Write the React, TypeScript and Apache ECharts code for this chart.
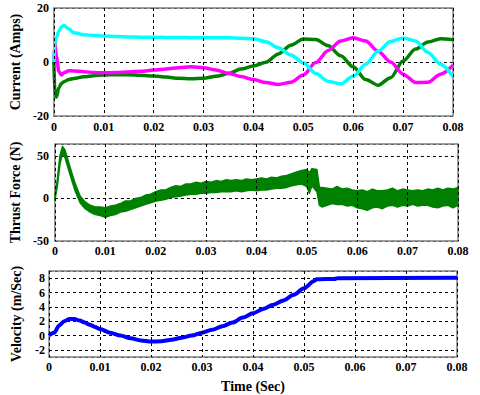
import React, { useEffect, useRef } from 'react';
import * as echarts from 'echarts';

// ---------- data ----------
const xRange = [0, 0.08];
const currentRange = [-20, 20];
const forceRange = [-50, 64];
const velocityRange = [-3, 9];

const currentTime = [0, 0.0002, 0.0005, 0.001, 0.0015, 0.002, 0.003, 0.004, 0.006, 0.008, 0.01, 0.0125, 0.015, 0.0175, 0.02, 0.0225, 0.025, 0.0275, 0.03, 0.0325, 0.035, 0.0375, 0.04, 0.0425, 0.045, 0.0475, 0.05, 0.0525, 0.055, 0.0575, 0.06, 0.0625, 0.065, 0.0675, 0.07, 0.0725, 0.075, 0.0775, 0.08];
const currentA = [0, -12, -13, -9.5, -8, -7.3, -6.5, -6.1, -5.5, -5.1, -4.8, -4.7, -4.7, -4.9, -5.2, -5.6, -6.0, -6.2, -6.0, -5.3, -4.3, -2.6, -1.5, -0.1, 3.0, 6.2, 8.5, 8.3, 6.0, 2.3, -1.8, -6.5, -8.6, -5.8, 0.4, 4.8, 7.4, 8.6, 8.2];
const currentB = [0, 7, 2, -3.5, -4.8, -4.0, -3.2, -3.3, -3.6, -3.9, -4.0, -3.9, -3.7, -3.4, -3.0, -2.6, -2.1, -1.8, -2.1, -3.0, -4.2, -5.4, -6.5, -7.6, -8.3, -7.5, -4.8, -0.2, 4.3, 7.8, 9.0, 7.8, 4.0, 0, -4.5, -7.6, -7.5, -4.5, -1.2];
const currentC = [0, 7, 9, 11.5, 13, 13.5, 12.2, 10.8, 10.1, 9.8, 9.6, 9.4, 9.3, 9.2, 9.2, 9.1, 9.1, 9.0, 9.0, 9.0, 9.0, 8.8, 8.6, 7.5, 5.3, 2.6, -0.3, -4.3, -7.2, -8.1, -5.3, -0.8, 4.0, 7.6, 8.9, 7.8, 3.5, -0.8, -5.5];

const forceTime = [0, 0.0005, 0.001, 0.0015, 0.002, 0.003, 0.004, 0.005, 0.006, 0.007, 0.008, 0.009, 0.01, 0.011, 0.012, 0.013, 0.014, 0.015, 0.016, 0.017, 0.018, 0.019, 0.02, 0.021, 0.022, 0.023, 0.024, 0.025, 0.026, 0.027, 0.028, 0.029, 0.03, 0.031, 0.032, 0.033, 0.034, 0.035, 0.036, 0.037, 0.038, 0.039, 0.04, 0.041, 0.042, 0.043, 0.044, 0.045, 0.046, 0.047, 0.048, 0.049, 0.05, 0.0505, 0.051, 0.052, 0.0525, 0.053, 0.054, 0.055, 0.056, 0.057, 0.058, 0.059, 0.06, 0.061, 0.062, 0.063, 0.064, 0.065, 0.066, 0.067, 0.068, 0.069, 0.07, 0.071, 0.072, 0.073, 0.074, 0.075, 0.076, 0.077, 0.078, 0.079, 0.08];
const forceLow = [-2, 15, 40, 53, 48, 28, 9, -5, -12, -16, -19, -20, -22, -20, -19, -16, -15, -13, -11, -9, -7, -5, -3, -2, -1, 1, 2, 3, 4, 5, 5, 6, 6, 7, 7, 8, 8, 8, 9, 8, 9, 10, 9, 10, 10, 11, 12, 12, 13, 15, 16, 17, 14, 6, 15, 8, -8, -10, -8, -6, -7, -7, -9, -8, -11, -12, -14, -11, -10, -12, -9, -8, -10, -8, -9, -7, -9, -8, -8, -10, -11, -9, -8, -11, -8];
const forceHigh = [2, 23, 50, 61, 57, 37, 18, 3, -4, -8, -10, -10, -11, -9, -8, -6, -3, -3, 0, 1, 4, 5, 8, 10, 10, 13, 15, 14, 17, 17, 19, 18, 20, 19, 21, 20, 22, 21, 22, 21, 23, 22, 23, 24, 23, 25, 24, 26, 27, 29, 31, 33, 34, 30, 35, 34, 13, 13, 12, 11, 14, 11, 12, 10, 9, 10, 8, 11, 9, 9, 10, 12, 9, 11, 10, 9, 10, 9, 11, 10, 12, 10, 12, 11, 13];

const velocityTime = [0, 0.001, 0.002, 0.003, 0.004, 0.005, 0.006, 0.007, 0.008, 0.009, 0.01, 0.012, 0.014, 0.016, 0.018, 0.02, 0.022, 0.024, 0.026, 0.028, 0.03, 0.032, 0.034, 0.036, 0.038, 0.04, 0.042, 0.044, 0.046, 0.048, 0.05, 0.052, 0.0525, 0.056, 0.0565, 0.08];
const velocity = [0, 0.4, 1.4, 2.0, 2.3, 2.3, 2.1, 1.8, 1.5, 1.2, 0.9, 0.4, 0, -0.4, -0.7, -0.85, -0.8, -0.6, -0.3, 0, 0.4, 0.8, 1.3, 1.8, 2.5, 3.1, 3.7, 4.3, 4.9, 5.7, 6.6, 7.6, 7.85, 7.9, 8.0, 8.05];

// ---------- styling ----------
const FONT = "'Liberation Serif', 'Times New Roman', serif";
const GREEN = '#008000';
const MAGENTA = '#ff00ff';
const CYAN = '#00ffff';
const BLUE = '#0000ff';

const zip = (xs: number[], ys: number[]) => xs.map((x, i) => [x, ys[i]]);

export default function App() {
  const ref = useRef<HTMLDivElement>(null);

  useEffect(() => {
    if (!ref.current) return;
    const chart = echarts.init(ref.current, undefined, { renderer: 'svg' });

    const labelStyle = { fontFamily: FONT, fontWeight: 'bold' as const, fontSize: 12, color: '#000' };
    const nameStyle = { fontFamily: FONT, fontWeight: 'bold' as const, fontSize: 14, color: '#000' };
    const dashed = { show: true, lineStyle: { color: '#000', width: 1, type: [3, 3] } };

    const grids = [
      { left: 50, top: 8, width: 403, height: 108 },
      { left: 49, top: 144, width: 409, height: 97 },
      { left: 49, top: 271, width: 408, height: 86 },
    ];
    const yRanges = [currentRange, forceRange, velocityRange];
    const labelMargins = [5, 4, 4];

    const xAxis = grids.map((_, i) => ({
      type: 'value',
      gridIndex: i,
      min: xRange[0],
      max: xRange[1],
      interval: 0.01,
      z: 3,
      axisLine: { show: false },
      axisTick: { show: false },
      splitLine: dashed,
      axisLabel: {
        ...labelStyle,
        margin: labelMargins[i],
        formatter: (v: number) => (v === 0 ? '0' : v.toFixed(2)),
      },
      ...(i === 2
        ? { name: 'Time (Sec)', nameLocation: 'middle', nameGap: 22, nameTextStyle: nameStyle }
        : {}),
    }));

    const yAxis = [
      {
        type: 'value', gridIndex: 0, min: currentRange[0], max: currentRange[1], interval: 20,
        axisLine: { show: false }, axisTick: { show: false }, splitLine: dashed,
        axisLabel: { ...labelStyle, margin: 5 },
        name: 'Current (Amps)', nameLocation: 'middle', nameGap: 31, nameTextStyle: nameStyle,
      },
      {
        type: 'value', gridIndex: 1, min: forceRange[0], max: forceRange[1], interval: 50,
        axisLine: { show: false }, axisTick: { show: false }, splitLine: dashed,
        axisLabel: { ...labelStyle, margin: 6, formatter: (v: number) => (v % 50 === 0 ? String(v) : '') },
        name: 'Thrust Force (N)', nameLocation: 'middle', nameGap: 30, nameTextStyle: nameStyle,
      },
      {
        type: 'value', gridIndex: 2, min: velocityRange[0], max: velocityRange[1], splitNumber: 6,
        axisLine: { show: false }, axisTick: { show: false }, splitLine: dashed,
        axisLabel: { ...labelStyle, margin: 4, formatter: (v: number) => (v % 2 === 0 ? String(v) : '') },
        name: 'Velocity (m/Sec)', nameLocation: 'middle', nameGap: 26, nameTextStyle: nameStyle,
      },
    ];

    const currentLine = (data: number[], color: string) => ({
      type: 'line',
      xAxisIndex: 0,
      yAxisIndex: 0,
      data: zip(currentTime, data),
      showSymbol: false,
      smooth: 0.3,
      smoothMonotone: 'x',
      lineStyle: { color, width: 3.5 },
      itemStyle: { color },
      z: 2,
      silent: true,
    });

    const frames = grids.map((_, i) => ({
      type: 'line',
      xAxisIndex: i,
      yAxisIndex: i,
      data: [[xRange[0], yRanges[i][0]], [xRange[1], yRanges[i][1]]],
      showSymbol: false,
      lineStyle: { opacity: 0 },
      silent: true,
      clip: false,
      z: 5,
      markArea: {
        silent: true,
        itemStyle: { color: 'rgba(0,0,0,0)', borderColor: '#7f7f7f', borderWidth: 1.5 },
        data: [[{ coord: [xRange[0], yRanges[i][0]] }, { coord: [xRange[1], yRanges[i][1]] }]],
      },
    }));

    const forceBand = {
      type: 'custom',
      xAxisIndex: 1,
      yAxisIndex: 1,
      data: [[forceTime[0], forceLow[0]]],
      encode: { x: 0, y: 1 },
      z: 2,
      silent: true,
      renderItem: (_params: any, api: any) => {
        const upper = forceTime.map((t, i) => api.coord([t, forceHigh[i]]));
        const lower = forceTime.map((t, i) => api.coord([t, forceLow[i]])).reverse();
        return {
          type: 'polygon',
          shape: { points: [...upper, ...lower] },
          style: { fill: GREEN, stroke: GREEN, lineWidth: 1.5, lineJoin: 'round' },
        };
      },
    };

    chart.setOption({
      animation: false,
      grid: grids,
      xAxis,
      yAxis,
      series: [
        currentLine(currentA, GREEN),
        currentLine(currentB, MAGENTA),
        currentLine(currentC, CYAN),
        forceBand,
        {
          type: 'line',
          xAxisIndex: 2,
          yAxisIndex: 2,
          data: zip(velocityTime, velocity),
          showSymbol: false,
          smooth: 0.3,
          smoothMonotone: 'x',
          lineStyle: { color: BLUE, width: 4 },
          z: 2,
          silent: true,
        },
        ...frames,
      ],
    });

    return () => chart.dispose();
  }, []);

  return (
    <div
      ref={ref}
      style={{ position: 'fixed', left: 0, top: 0, width: 480, height: 395, background: '#fff' }}
    />
  );
}
